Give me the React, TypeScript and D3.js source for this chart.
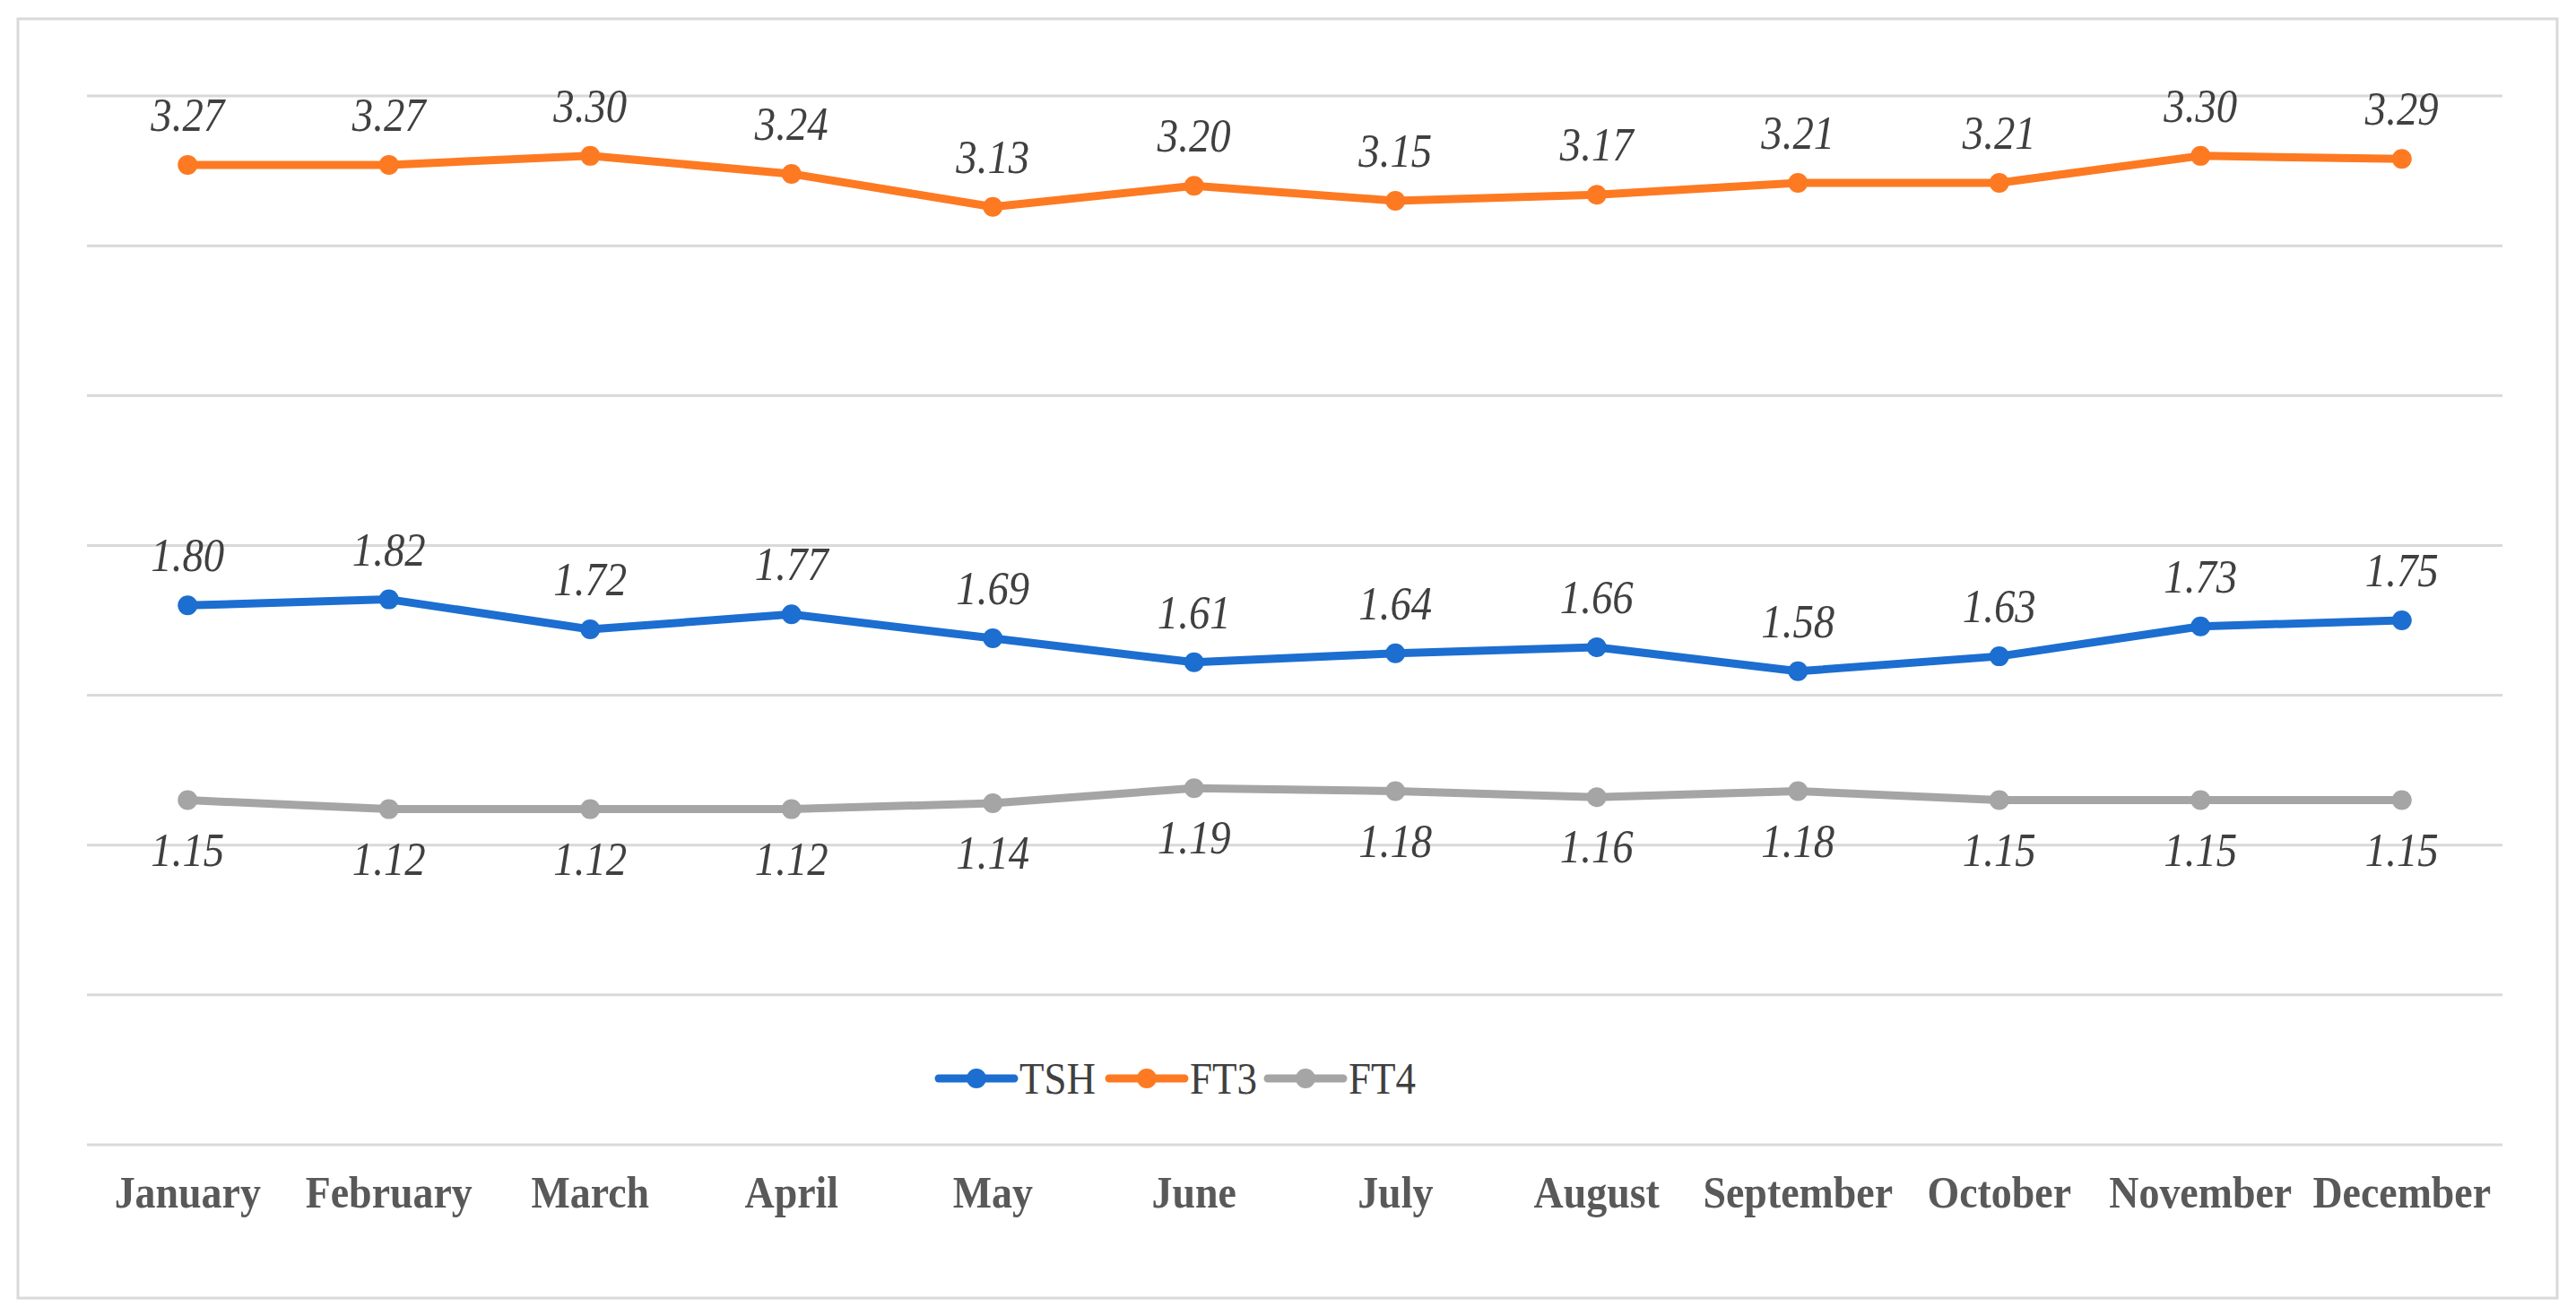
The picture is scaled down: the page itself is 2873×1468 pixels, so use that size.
import React, { useRef, useEffect } from 'react';
import * as d3 from 'd3';

const months = [
  'January', 'February', 'March', 'April', 'May', 'June',
  'July', 'August', 'September', 'October', 'November', 'December',
];
const tshValues = [1.8, 1.82, 1.72, 1.77, 1.69, 1.61, 1.64, 1.66, 1.58, 1.63, 1.73, 1.75];
const ft3Values = [3.27, 3.27, 3.3, 3.24, 3.13, 3.2, 3.15, 3.17, 3.21, 3.21, 3.3, 3.29];
const ft4Values = [1.15, 1.12, 1.12, 1.12, 1.14, 1.19, 1.18, 1.16, 1.18, 1.15, 1.15, 1.15];
const gridTicks = [0, 0.5, 1, 1.5, 2, 2.5, 3, 3.5];

const seriesNames = ['TSH', 'FT3', 'FT4'];
const seriesColors = ['#1c6ed0', '#fd7a22', '#a5a5a5'];
const labelBelow = [false, false, true];

const W = 2873;
const H = 1468;
const SERIF = '"Liberation Serif", "Times New Roman", serif';
const SX = 0.9; // reference text is a little narrow for its height

const App = () => {
  const ref = useRef<SVGSVGElement>(null);

  useEffect(() => {
    const svg = d3.select(ref.current);
    svg.selectAll('*').remove();

    const margin = { top: 107, right: 82, bottom: 191, left: 97 };
    const x = d3
      .scaleBand()
      .domain(months)
      .range([margin.left, W - margin.right]);
    const y = d3
      .scaleLinear()
      .domain([0, 3.5])
      .range([H - margin.bottom, margin.top]);
    const cx = (m: string) => (x(m) as number) + x.bandwidth() / 2;

    svg.append('rect').attr('width', W).attr('height', H).attr('fill', '#fff');
    svg
      .append('rect')
      .attr('x', 20)
      .attr('y', 21)
      .attr('width', 2832)
      .attr('height', 1427)
      .attr('fill', '#fff')
      .attr('stroke', '#d9d9d9')
      .attr('stroke-width', 3);

    // gridlines
    svg
      .append('g')
      .selectAll('line')
      .data(gridTicks)
      .enter()
      .append('line')
      .attr('x1', margin.left)
      .attr('x2', W - margin.right)
      .attr('y1', (d) => y(d))
      .attr('y2', (d) => y(d))
      .attr('stroke', '#d9d9d9')
      .attr('stroke-width', 3);

    // x axis labels
    svg
      .append('g')
      .selectAll('text')
      .data(months)
      .enter()
      .append('text')
      .attr('transform', (d) => `translate(${cx(d)}, 1347) scale(${SX}, 1)`)
      .attr('text-anchor', 'middle')
      .attr('font-family', SERIF)
      .attr('font-weight', 'bold')
      .attr('font-size', 51)
      .attr('fill', '#595959')
      .text((d) => d);

    const allSeries = [tshValues, ft3Values, ft4Values];
    const line = d3
      .line<number>()
      .x((_, i) => cx(months[i]))
      .y((d) => y(d));

    allSeries.forEach((vals, s) => {
      const g = svg.append('g');
      g.append('path')
        .datum(vals)
        .attr('d', line)
        .attr('fill', 'none')
        .attr('stroke', seriesColors[s])
        .attr('stroke-width', 9)
        .attr('stroke-linejoin', 'round')
        .attr('stroke-linecap', 'round');
      g.selectAll('circle')
        .data(vals)
        .enter()
        .append('circle')
        .attr('cx', (_, i) => cx(months[i]))
        .attr('cy', (d) => y(d))
        .attr('r', 11)
        .attr('fill', seriesColors[s]);
      g.selectAll('text')
        .data(vals)
        .enter()
        .append('text')
        .attr('transform', (d, i) => {
          const ty = labelBelow[s] ? y(d) + 73 : y(d) - 38;
          return `translate(${cx(months[i])}, ${ty}) scale(${SX}, 1)`;
        })
        .attr('text-anchor', 'middle')
        .attr('font-family', SERIF)
        .attr('font-style', 'italic')
        .attr('font-size', 52)
        .attr('fill', '#404040')
        .text((d) => d.toFixed(2));
    });

    // legend
    const legendX = [1047, 1237, 1414];
    const legendY = 1203;
    seriesNames.forEach((name, s) => {
      const g = svg.append('g').attr('transform', `translate(${legendX[s]}, ${legendY})`);
      g.append('line')
        .attr('x1', 0)
        .attr('x2', 84)
        .attr('stroke', seriesColors[s])
        .attr('stroke-width', 9)
        .attr('stroke-linecap', 'round');
      g.append('circle').attr('cx', 42).attr('r', 11).attr('fill', seriesColors[s]);
      g.append('text')
        .attr('transform', `translate(90, 17) scale(${SX}, 1)`)
        .attr('font-family', SERIF)
        .attr('font-size', 50)
        .attr('fill', '#404040')
        .text(name);
    });
  }, []);

  return (
    <div>
      <style>{'body{margin:0}'}</style>
      <svg ref={ref} width={W} height={H} style={{ display: 'block' }} />
    </div>
  );
};

export default App;
